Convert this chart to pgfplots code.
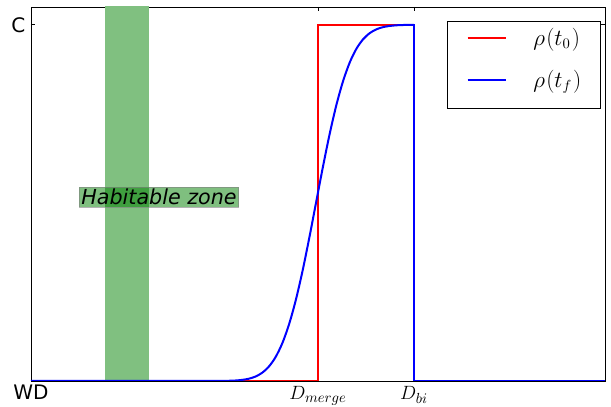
\documentclass[border=0pt]{standalone}
\usepackage{fontspec}
\setmainfont{DejaVu Sans}
\usepackage{pgfplots}
\pgfplotsset{compat=1.18}
\definecolor{hzgreen}{RGB}{128,192,128}
\begin{document}
\begin{tikzpicture}
\begin{axis}[
  scale only axis,
  width=430.5pt, height=280.5pt,
  xmin=0, xmax=574, ymin=0, ymax=1.05,
  clip mode=individual,
  xtick={287,383}, xticklabels={$D_{merge}$,$D_{bi}$},
  ytick={1}, yticklabels={C},
  tick align=inside,
  major tick length=3pt,
  tick style={black, line width=0.6pt},
  axis line style={line width=0.6pt},
  xticklabel style={inner sep=0pt, anchor=north, yshift=-4pt, font=\fontsize{15}{18}\selectfont},
  yticklabel style={inner sep=0pt, anchor=east, xshift=-4pt, font=\fontsize{15}{18}\selectfont},
  legend style={at={(1,1)}, anchor=north east, xshift=-3pt, yshift=-10.5pt,
    draw=black, fill=white, inner xsep=14.5pt, inner ysep=5pt, row sep=8.25pt,
    nodes={inner sep=0pt},
    font=\fontsize{16}{19}\selectfont,
    /tikz/every odd column/.append style={column sep=19.5pt}},
  legend image code/.code={\draw[#1] (0pt,0pt) -- (29pt,0pt); \path (0pt,-15.5pt);},
  legend cell align=left,
]
\addplot[draw=none, fill=hzgreen, forget plot] coordinates {(74,-0.1) (118,-0.1) (118,1.2) (74,1.2)} -- cycle;
\addplot[red, line width=1.5pt] coordinates {(0,0) (287,0) (287,1) (383,1) (383,0) (574,0)};
\addlegendentry{$\rho\mkern1mu(t_0\mkern1mu)$}
\addplot[blue, line width=1.5pt, smooth, tension=0.5] coordinates {
(0,0) (190.5,0.0002) (197.25,0.0006) (204,0.0013) (210.75,0.0030) (217.5,0.0062)
(224.25,0.0122) (231,0.0228) (237.75,0.0401) (244.5,0.0668) (251.25,0.1056) (258,0.1587)
(264.75,0.2266) (271.5,0.3085) (278.25,0.4013) (285,0.5) (291.75,0.5987) (298.5,0.6915)
(305.25,0.7734) (312,0.8413) (318.75,0.8944) (325.5,0.9332) (332.25,0.9599) (339,0.9772)
(345.75,0.9878) (352.5,0.9938) (359.25,0.9970) (366,0.9987) (372.75,0.9995) (379.5,0.9998) (383,1)};
\addlegendentry{$\rho\mkern1mu(t_f\mkern1mu)$}
\addplot[blue, line width=1.5pt, line cap=rect, forget plot] coordinates {(383,1) (383,0) (574,0)};
\node[inner sep=0pt, anchor=north, yshift=-3pt, font=\fontsize{15}{18}\selectfont] at (axis cs:0,0) {WD};
\node[fill=green!50!black, fill opacity=0.5, text opacity=1, draw=gray, draw opacity=0.6,
  inner sep=1.5pt, font=\fontsize{15.5}{18}\selectfont\itshape] at (axis cs:128,0.517) {Habitable zone};
\coordinate (sw) at (rel axis cs:0,0);
\coordinate (ne) at (rel axis cs:1,1);
\end{axis}
\pgfresetboundingbox
\path ([shift={(-23.25pt,-19.5pt)}]sw) rectangle ([shift={(4.5pt,5.25pt)}]ne);
\end{tikzpicture}
\end{document}
